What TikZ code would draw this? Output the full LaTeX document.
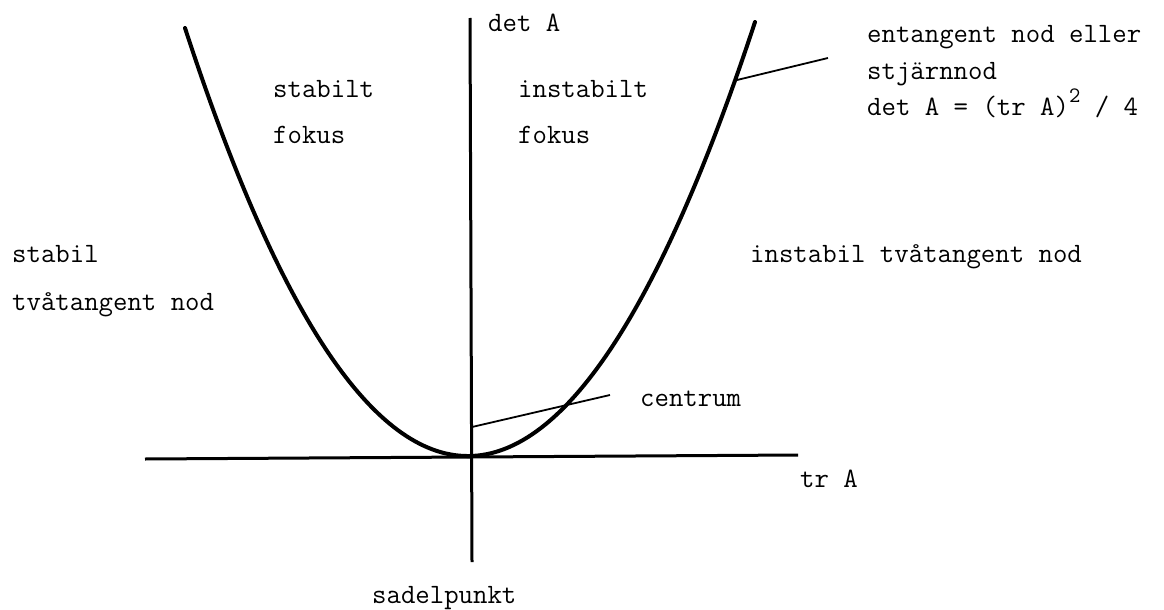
\documentclass[tikz,border=0pt]{standalone}
\usepackage{fontspec}
\begin{document}
\begin{tikzpicture}[x=1pt,y=-1pt,
  lbl/.style={anchor=base west,inner sep=0pt,font=\ttfamily\fontsize{28}{32}\selectfont},
  axis/.style={line width=3pt},
  curve/.style={line width=4pt},
  leader/.style={line width=1.8pt}]
\useasboundingbox (0,0) rectangle (1164,610);
% axes
\coordinate (vtop) at (470,18);
\coordinate (vbot) at (472,562);
\coordinate (hl) at (145,459);
\coordinate (hr) at (798,455);
\draw[axis] (vtop) -- (vbot);
\draw[axis] (hl) -- (hr);
% parabola
\coordinate (pl) at (185,28);
\coordinate (pr) at (755,22);
\draw[curve,line cap=round] (pl) .. controls (372,600.7) and (565,598.7) .. (pr);
% labels
\node[lbl] (detA) at (488,32) {det A};
\node[lbl] (stabilt) at (273,97) {stabilt};
\node[lbl] (fokusL) at (273,143) {fokus};
\node[lbl] (instabilt) at (518,97) {instabilt};
\node[lbl] (fokusR) at (518,143) {fokus};
\node[lbl] (en) at (867,43) {entangent nod eller};
\node[lbl] (stj) at (867,79) {stjärnnod};
\node[lbl] (eq) at (867,115) {det A = (tr A)\raisebox{0.45em}{\fontsize{22}{22}\selectfont 2} / 4};
\node[lbl] (stabil) at (12,262) {stabil};
\node[lbl] (tva) at (12,310) {tvåtangent nod};
\node[lbl] (instabil) at (750,262) {instabil tvåtangent nod};
\node[lbl] (centrum) at (640,406) {centrum};
\node[lbl] (trA) at (800,487) {tr A};
\node[lbl] (sadel) at (372,603) {sadelpunkt};
% leader lines
\coordinate (t1) at (737,80);
\coordinate (t2) at (828,58);
\draw[leader] (t1) -- (t2);
\coordinate (c1) at (472,427);
\coordinate (c2) at (610,395);
\draw[leader] (c1) -- (c2);
\end{tikzpicture}
\end{document}
